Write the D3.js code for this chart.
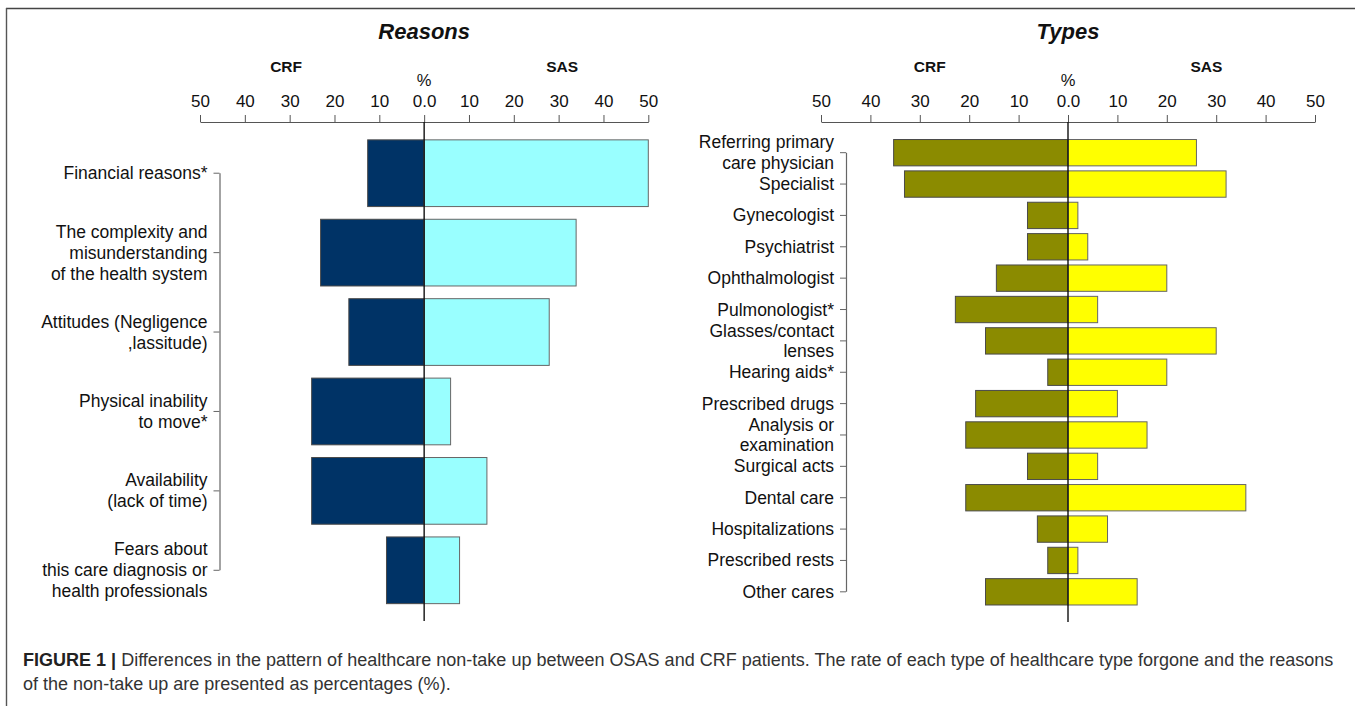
<!DOCTYPE html>
<html><head><meta charset="utf-8">
<script src="https://cdn.jsdelivr.net/npm/d3@7"></script>
<style>
body{margin:0;background:#fff;}
svg{display:block;font-family:"Liberation Sans",Arial,sans-serif;}
</style></head>
<body><svg id="c" width="1355" height="706"></svg>
<script>
// ---------- data ----------
const reasonCategories = [
  "Financial reasons*",
  "The complexity and\nmisunderstanding\nof the health system",
  "Attitudes (Negligence\n,lassitude)",
  "Physical inability\nto move*",
  "Availability\n(lack of time)",
  "Fears about\nthis care diagnosis or\nhealth professionals"
];
const reasonCRF = [12.6, 23.1, 16.8, 25.1, 25.1, 8.4];
const reasonSAS = [50, 33.9, 27.9, 5.9, 14.0, 7.9];

const typeCategories = [
  "Referring primary\ncare physician", "Specialist", "Gynecologist", "Psychiatrist",
  "Ophthalmologist", "Pulmonologist*", "Glasses/contact\nlenses", "Hearing aids*",
  "Prescribed drugs", "Analysis or\nexamination", "Surgical acts", "Dental care",
  "Hospitalizations", "Prescribed rests", "Other cares"
];
const typeCRF = [35.3, 33.1, 8.2, 8.2, 14.5, 22.8, 16.7, 4.1, 18.7, 20.7, 8.2, 20.7, 6.2, 4.1, 16.7];
const typeSAS = [26, 32, 2, 4, 20, 6, 30, 20, 10, 16, 6, 36, 8, 2, 14];

const tickValues = [-50, -40, -30, -20, -10, 0, 10, 20, 30, 40, 50];
const panelTitles = ["Reasons", "Types"];
const groupNames = ["CRF", "SAS"];
const captionLines = [
  "Differences in the pattern of healthcare non-take up between OSAS and CRF patients. The rate of each type of healthcare type forgone and the reasons",
  "of the non-take up are presented as percentages (%)."
];

// ---------- drawing ----------
const svg = d3.select("#c");

// frame
svg.append("line").attr("x1",6).attr("x2",1355).attr("y1",8.5).attr("y2",8.5).attr("stroke","#444").attr("stroke-width",1.6);
svg.append("line").attr("x1",6.5).attr("x2",6.5).attr("y1",8).attr("y2",706).attr("stroke","#555").attr("stroke-width",1.4);

function panel(cfg){
  const x = d3.scaleLinear().domain([-50,50]).range(cfg.xr);
  const y = d3.scaleBand().domain(cfg.cats).range(cfg.yr).paddingInner(cfg.pin).paddingOuter(cfg.pout);
  const g = svg.append("g");
  const axisY = 122;

  // title & group labels
  g.append("text").attr("x",x(0)).attr("y",39).attr("text-anchor","middle")
    .attr("font-size",22).attr("font-weight","bold").attr("font-style","italic").attr("fill","#111").text(cfg.title);
  g.append("text").attr("x",x(cfg.crfPos)).attr("y",72).attr("text-anchor","middle")
    .attr("font-size",15.5).attr("font-weight","bold").attr("fill","#111").text(groupNames[0]);
  g.append("text").attr("x",x(cfg.sasPos)).attr("y",72).attr("text-anchor","middle")
    .attr("font-size",15.5).attr("font-weight","bold").attr("fill","#111").text(groupNames[1]);
  g.append("text").attr("x",x(0)).attr("y",86).attr("text-anchor","middle")
    .attr("font-size",16.5).attr("fill","#111").text("%");

  // top axis
  const ax = d3.axisTop(x).tickValues(tickValues).tickSize(7).tickSizeOuter(0).tickPadding(8)
    .tickFormat(d => d === 0 ? "0.0" : String(Math.abs(d)));
  const ag = g.append("g").attr("transform",`translate(0,${axisY})`).call(ax);
  ag.select(".domain").attr("stroke","#555");
  ag.selectAll(".tick line").attr("stroke","#555");
  ag.selectAll(".tick text").attr("font-size",17).attr("fill","#111")
    .attr("font-family","'Liberation Sans',Arial,sans-serif");

  // bars
  const cat = cfg.cats;
  g.selectAll(".crf").data(cfg.crf).enter().append("rect")
    .attr("x", d => x(-d)).attr("width", d => x(0) - x(-d))
    .attr("y", (d,i) => y(cat[i])).attr("height", y.bandwidth())
    .attr("fill", cfg.c1).attr("stroke","#4a4a4a").attr("stroke-width",1);
  g.selectAll(".sas").data(cfg.sas).enter().append("rect")
    .attr("x", x(0)).attr("width", d => x(d) - x(0))
    .attr("y", (d,i) => y(cat[i])).attr("height", y.bandwidth())
    .attr("fill", cfg.c2).attr("stroke","#666").attr("stroke-width",1);

  // center line
  g.append("line").attr("x1",x(0)).attr("x2",x(0)).attr("y1",axisY).attr("y2",cfg.centerEnd)
    .attr("stroke","#111").attr("stroke-width",1.4);

  // category axis
  const ly = d3.axisLeft(y).tickSize(6).tickSizeOuter(0).tickPadding(7).tickFormat("");
  const lg = g.append("g").attr("transform",`translate(${cfg.axX},0)`).call(ly);
  lg.select(".domain").remove();
  lg.selectAll(".tick line").attr("stroke","#666");
  const c0 = y(cat[0]) + y.bandwidth()/2, c1 = y(cat[cat.length-1]) + y.bandwidth()/2;
  g.append("line").attr("x1",cfg.axX+0.5).attr("x2",cfg.axX+0.5).attr("y1",c0).attr("y2",c1)
    .attr("stroke","#666").attr("stroke-width",1.2);
  const lh = cfg.lh;
  cat.forEach(c => {
    const lines = c.split("\n");
    const cy = y(c) + y.bandwidth()/2;
    const t = g.append("text").attr("text-anchor","end").attr("font-size",17.5).attr("fill","#111");
    lines.forEach((ln,i) => {
      t.append("tspan").attr("x", cfg.axX - 12)
        .attr("y", cy + (i - (lines.length-1)/2)*lh + 6).text(ln);
    });
  });
}

panel({title:panelTitles[0], cats:reasonCategories, crf:reasonCRF, sas:reasonSAS,
  xr:[200,648.3], yr:[133.5,610], pin:0.16, pout:0.08, c1:"#003366", c2:"#99ffff",
  axX:219.5, lh:21, crfPos:-30.8, sasPos:30.8, centerEnd:621});
panel({title:panelTitles[1], cats:typeCategories, crf:typeCRF, sas:typeSAS,
  xr:[821,1315], yr:[137,607.5], pin:0.16, pout:0.08, c1:"#8b8b00", c2:"#ffff00",
  axX:846, lh:20.5, crfPos:-28, sasPos:28, centerEnd:622});

// caption
const cap = svg.append("g");
const t1 = cap.append("text").attr("x",23).attr("y",666).attr("font-size",15.5).attr("fill","#333");
t1.append("tspan").attr("font-weight","bold").attr("fill","#222").text("FIGURE 1 |");
t1.append("tspan").text(" " + captionLines[0]);
const w = t1.node().getComputedTextLength();
const fs = 15.5 * 1311 / w;
t1.attr("font-size", fs);
cap.append("text").attr("x",23).attr("y",690).attr("font-size",fs).attr("fill","#333").text(captionLines[1]);
</script></body></html>
